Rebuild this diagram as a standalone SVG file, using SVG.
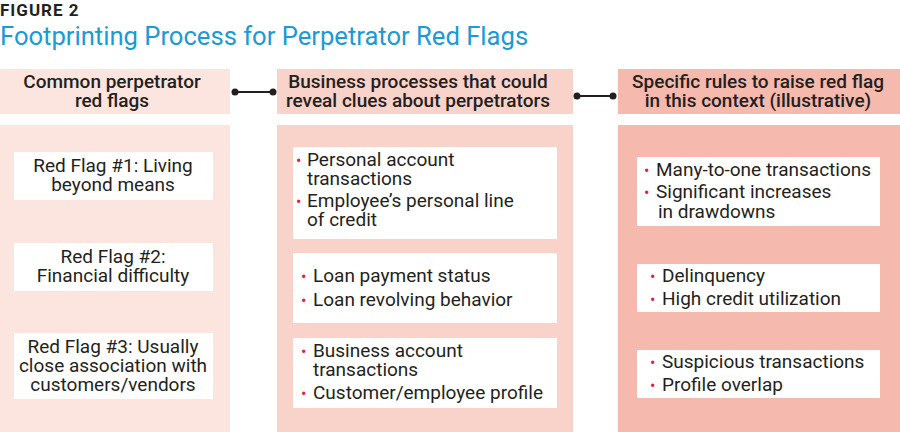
<svg xmlns="http://www.w3.org/2000/svg" width="900" height="432" viewBox="0 0 900 432">
<style>
text{font-family:Roboto,"Liberation Sans",sans-serif;fill:#231f20;font-size:19px}
.h{font-weight:500;text-anchor:middle}
.c{text-anchor:middle}
.b{fill:#e31b3e;font-size:16px}
.w{fill:#fff}
.con{stroke:#231f20;stroke-width:2;fill:none}
</style>
<text x="0" y="16" style="font-weight:700;font-size:17px;letter-spacing:1px">FIGURE 2</text>
<text x="0" y="45" style="fill:#1a9ad7;font-size:25.6px">Footprinting Process for Perpetrator Red Flags</text>
<g id="col1">
<rect x="0" y="69" width="230" height="45" fill="#fde5df"/>
<text class="h" x="112" y="88">Common perpetrator</text>
<text class="h" x="112" y="107">red flags</text>
<rect x="0" y="125" width="230" height="307" fill="#fde5df"/>
<rect class="w" x="14" y="152" width="199" height="48"/>
<text class="c" x="113" y="172">Red Flag #1: Living</text>
<text class="c" x="113" y="191">beyond means</text>
<rect class="w" x="14" y="243" width="199" height="48"/>
<text class="c" x="113" y="263">Red Flag #2:</text>
<text class="c" x="113" y="282">Financial difficulty</text>
<rect class="w" x="14" y="333" width="199" height="66"/>
<text class="c" x="113" y="353">Red Flag #3: Usually</text>
<text class="c" x="113" y="372">close association with</text>
<text class="c" x="113" y="391">customers/vendors</text>
</g>
<g id="col2">
<rect x="277" y="69" width="296" height="45" fill="#f9d2c9"/>
<text class="h" x="418" y="88">Business processes that could</text>
<text class="h" x="418" y="107">reveal clues about perpetrators</text>
<rect x="277" y="125" width="296" height="307" fill="#f9d2c9"/>
<rect class="w" x="293" y="147" width="264" height="92"/>
<text class="b" x="296" y="166">•</text><text x="307" y="166">Personal account</text>
<text x="307" y="185">transactions</text>
<text class="b" x="296" y="207">•</text><text x="307" y="207">Employee’s personal line</text>
<text x="307" y="226">of credit</text>
<rect class="w" x="293" y="253" width="264" height="70"/>
<text class="b" x="301" y="282">•</text><text x="313" y="282">Loan payment status</text>
<text class="b" x="301" y="306">•</text><text x="313" y="306">Loan revolving behavior</text>
<rect class="w" x="293" y="338" width="264" height="70"/>
<text class="b" x="301" y="357">•</text><text x="313" y="357">Business account</text>
<text x="313" y="376">transactions</text>
<text class="b" x="301" y="399">•</text><text x="313" y="399">Customer/employee profile</text>
</g>
<g id="col3">
<rect x="618" y="69" width="282" height="45" fill="#f6b9ad"/>
<text class="h" x="758" y="88">Specific rules to raise red flag</text>
<text class="h" x="758" y="107">in this context (illustrative)</text>
<rect x="618" y="125" width="282" height="307" fill="#f6b9ad"/>
<rect class="w" x="637" y="157" width="243" height="69"/>
<text class="b" x="644" y="176">•</text><text x="656" y="176">Many-to-one transactions</text>
<text class="b" x="644" y="198">•</text><text x="656" y="198">Significant increases</text>
<text x="658" y="218">in drawdowns</text>
<rect class="w" x="637" y="264" width="243" height="48"/>
<text class="b" x="650" y="282">•</text><text x="662" y="282">Delinquency</text>
<text class="b" x="650" y="305">•</text><text x="662" y="305">High credit utilization</text>
<rect class="w" x="637" y="350" width="243" height="48"/>
<text class="b" x="650" y="368">•</text><text x="662" y="368">Suspicious transactions</text>
<text class="b" x="650" y="391">•</text><text x="662" y="391">Profile overlap</text>
</g>
<g id="connectors" fill="#231f20">
<path class="con" d="M235 92H273M577 96H613"/>
<circle cx="235" cy="92" r="3.5"/><circle cx="273" cy="92" r="3.5"/>
<circle cx="577" cy="96" r="3.5"/><circle cx="613" cy="96" r="3.5"/>
</g>
</svg>
